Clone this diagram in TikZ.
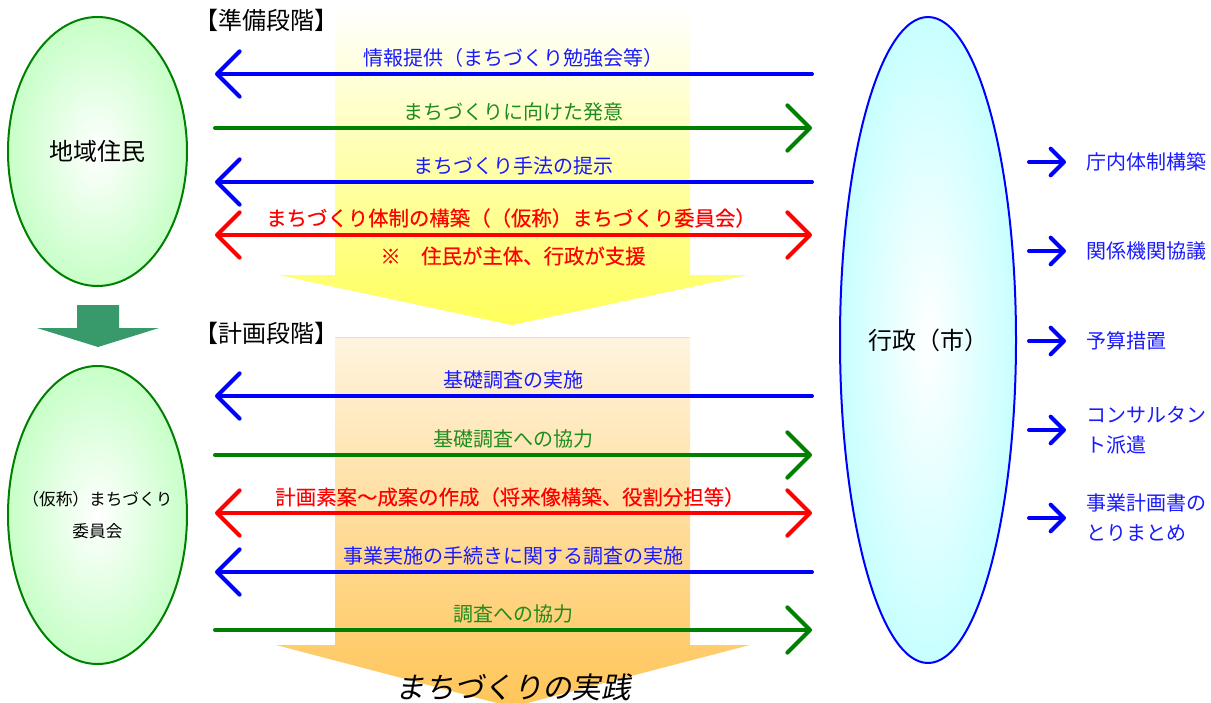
\documentclass[tikz,border=0pt]{standalone}
\usepackage{fontspec}
\setmainfont{Noto Sans CJK JP}
\newfontfamily\jpslant[FakeSlant=0.2]{Noto Sans CJK JP}
\newfontfamily\jpheavy[FakeBold=0.3]{Noto Sans CJK JP}
\usetikzlibrary{arrows.meta,shapes.geometric}
\definecolor{cblue}{HTML}{0000FF}
\definecolor{cgreen}{HTML}{008000}
\definecolor{cred}{HTML}{FF0000}
\definecolor{tblue}{HTML}{1A1AFF}
\definecolor{tgreen}{HTML}{1E8C1E}
\definecolor{egreen}{HTML}{C8FFC8}
\definecolor{ecyan}{HTML}{C8FFFF}
\definecolor{yel}{HTML}{FFFF5A}
\definecolor{orgtop}{HTML}{FFF4DF}
\definecolor{orgbot}{HTML}{FFC558}
\definecolor{orgline}{HTML}{FFDC90}
\definecolor{dkgreen}{HTML}{38996A}
\tikzset{
  conn/.style={line width=3pt, line cap=round},
  bigtip/.tip={Straight Barb[length=17pt, width=34pt, round]},
  smalltip/.tip={Straight Barb[length=10pt, width=20pt, round]},
  toleft/.style={conn, -bigtip},
  toright/.style={conn, -bigtip},
  both/.style={conn, bigtip-bigtip},
  lab/.style={inner sep=0pt, font=\fontsize{15}{18}\selectfont},
  redlab/.style={inner sep=0pt, text=cred, font=\jpheavy\fontsize{15.3}{18}\selectfont},
  head/.style={inner sep=0pt, font=\fontsize{18}{21}\selectfont},
  listlab/.style={inner sep=0pt, anchor=west, align=left, text=tblue, font=\fontsize{15}{22.5}\selectfont},
  greenell/.style={ellipse, draw=cgreen, line width=1.5pt, inner sep=0pt, inner color=white, outer color=egreen, text=black},
  blueell/.style={ellipse, draw=cblue, line width=1.5pt, inner sep=0pt, inner color=white, outer color=ecyan, text=black},
}
\begin{document}
\begin{tikzpicture}[x=0.75pt, y=-0.75pt]
\useasboundingbox (0,0) rectangle (1211,703);
\fill[white] (0,0) rectangle (1211,703);

% big gradient arrows
\shade[top color=white, bottom color=yel]
  (335,5) -- (690,5) -- (690,275) -- (748,275) -- (512,325) -- (278,275) -- (335,275) -- cycle;
\shade[top color=orgtop, bottom color=orgbot]
  (335,337) -- (690,337) -- (690,645) -- (750,645) -- (512,707) -- (276,645) -- (335,645) -- cycle;
\draw[orgline, line width=0.75pt] (335,337) -- (690,337);

% ellipses
\node[greenell, minimum width=134.25pt, minimum height=201.75pt] (res) at (97.5,151.5) {};
\node[inner sep=0pt, font=\fontsize{18}{21}\selectfont] (resl) at (res.center) {地域住民};
\node[greenell, minimum width=134.25pt, minimum height=223.5pt] (com) at (97.5,515) {};
\node[inner sep=0pt, align=center, font=\fontsize{12.5}{24}\selectfont] (coml) at (com.center) {（仮称）まちづくり\\委員会};
\node[blueell, minimum width=132pt, minimum height=484.5pt] (gov) at (928,340) {};
\node[inner sep=0pt, font=\fontsize{18}{21}\selectfont] (govl) at (gov.center) {行政（市）};

% green down arrow between the residents and the committee
\fill[dkgreen] (77,305) -- (119,305) -- (119,328) -- (159,328) -- (98,347) -- (37,328) -- (77,328) -- cycle;

% headings
\node[head] (h1) at (266,20) {【準備段階】};
\node[head] (h2) at (266,333) {【計画段階】};

% connector end points
\foreach \n/\y in {1/74,2/128,3/182,4/235,5/396,6/455,7/513,8/572,9/630}{
  \coordinate (L\n) at (215,\y);
  \coordinate (R\n) at (812,\y);
}

% connectors
\draw[toleft, cblue]  (R1) -- (L1);
\draw[toright, cgreen] (L2) -- (R2);
\draw[toleft, cblue]  (R3) -- (L3);
\draw[both, cred]     (L4) -- (R4);
\draw[toleft, cblue]  (R5) -- (L5);
\draw[toright, cgreen] (L6) -- (R6);
\draw[both, cred]     (L7) -- (R7);
\draw[toleft, cblue]  (R8) -- (L8);
\draw[toright, cgreen] (L9) -- (R9);

% connector labels
\node[lab, text=tblue]  (t1) at (513,58)  {情報提供（まちづくり勉強会等）};
\node[lab, text=tgreen] (t2) at (513,112) {まちづくりに向けた発意};
\node[lab, text=tblue]  (t3) at (513,166) {まちづくり手法の提示};
\node[redlab]           (t4) at (511,218) {まちづくり体制の構築（（仮称）まちづくり委員会）};
\node[redlab]           (t4b) at (513,256) {※　住民が主体、行政が支援};
\node[lab, text=tblue]  (t5) at (513,380) {基礎調査の実施};
\node[lab, text=tgreen] (t6) at (513,439) {基礎調査への協力};
\node[redlab]           (t7) at (510,497) {計画素案～成案の作成（将来像構築、役割分担等）};
\node[lab, text=tblue]  (t8) at (513,556) {事業実施の手続きに関する調査の実施};
\node[lab, text=tgreen] (t9) at (513,614) {調査への協力};

% bottom caption
\node[inner sep=0pt, font=\jpslant\fontsize{22}{26}\selectfont] (prac) at (513,687) {まちづくりの実践};

% right-hand list
\foreach \n/\y in {1/162,2/251,3/341,4/430,5/518}{
  \coordinate (A\n) at (1029,\y);
  \coordinate (B\n) at (1066,\y);
  \draw[conn, cblue, -smalltip] (A\n) -- (B\n);
}
\node[listlab] (r1) at (1086,162) {庁内体制構築};
\node[listlab] (r2) at (1086,251) {関係機関協議};
\node[listlab] (r3) at (1086,341) {予算措置};
\node[listlab] (r4) at (1086,430) {コンサルタン\\ト派遣};
\node[listlab] (r5) at (1086,518) {事業計画書の\\とりまとめ};
\end{tikzpicture}
\end{document}
